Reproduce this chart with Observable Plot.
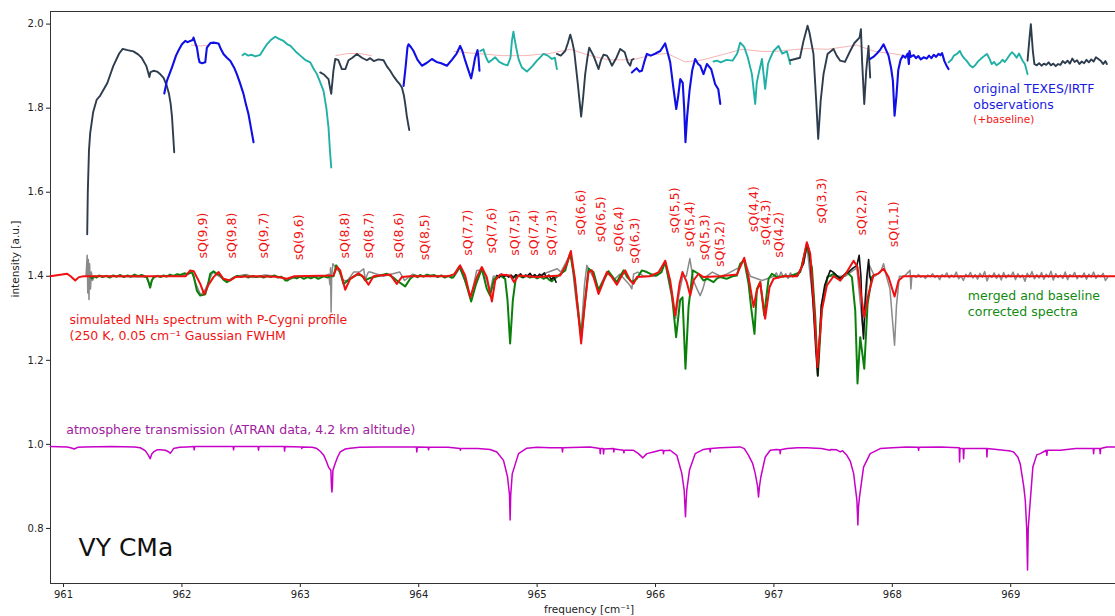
<!DOCTYPE html>
<html><head><meta charset="utf-8">
<script src="https://cdn.jsdelivr.net/npm/d3@7"></script>
<script src="https://cdn.jsdelivr.net/npm/@observablehq/plot@0.6"></script>
<style>
html,body{margin:0;padding:0;background:#fff;overflow:hidden}
svg{display:block}
</style>
</head><body><div id="chart"></div>
<script>
// ---------- axes ----------
const xDomain = [960.89, 969.885];
const yDomain = [0.669, 2.030];
const xTicks = [961, 962, 963, 964, 965, 966, 967, 968, 969];
const yTicks = [0.8, 1.0, 1.2, 1.4, 1.6, 1.8, 2.0];

// ---------- original TEXES/IRTF observations (+baseline), [frequency, intensity] ----------
const obsDark1 = [[961.20,1.50],[961.205,1.60],[961.215,1.70],[961.225,1.74],[961.25,1.79],[961.28,1.82],[961.31,1.83],[961.37,1.86],[961.42,1.90],[961.47,1.93],[961.50,1.941],[961.54,1.938],[961.59,1.935],[961.63,1.928],[961.66,1.92],[961.70,1.90],[961.715,1.885],[961.725,1.874],[961.735,1.886],[961.76,1.889],[961.79,1.887],[961.82,1.88],[961.845,1.872],[961.87,1.855],[961.89,1.835],[961.905,1.81],[961.916,1.78],[961.925,1.74],[961.935,1.695]];
const obsBlue1 = [[961.851,1.835],[961.873,1.865],[961.916,1.897],[961.95,1.925],[961.971,1.937],[962.0,1.952],[962.028,1.96],[962.05,1.957],[962.07,1.96],[962.09,1.962],[962.098,1.968],[962.113,1.955],[962.127,1.944],[962.14,1.92],[962.149,1.909],[962.17,1.907],[962.197,1.909],[962.205,1.93],[962.211,1.944],[962.24,1.955],[962.267,1.956],[962.309,1.954],[962.33,1.94],[962.351,1.929],[962.38,1.92],[962.408,1.913],[962.44,1.897],[962.464,1.881],[962.49,1.86],[962.52,1.834],[962.54,1.81],[962.562,1.786],[962.585,1.75],[962.605,1.719]];
const obsTeal1 = [[962.512,1.926],[962.53,1.93],[962.56,1.925],[962.59,1.927],[962.62,1.923],[962.661,1.927],[962.69,1.94],[962.718,1.952],[962.75,1.962],[962.788,1.97],[962.82,1.965],[962.858,1.96],[962.89,1.952],[962.915,1.949],[962.96,1.935],[963.0,1.925],[963.04,1.915],[963.084,1.909],[963.11,1.895],[963.14,1.881],[963.17,1.86],[963.196,1.841],[963.22,1.80],[963.238,1.754],[963.25,1.70],[963.261,1.659]];
const obsDark2 = [[963.168,1.885],[963.2,1.88],[963.238,1.869],[963.25,1.85],[963.261,1.834],[963.28,1.89],[963.295,1.917],[963.32,1.915],[963.351,1.893],[963.38,1.893],[963.407,1.914],[963.44,1.92],[963.478,1.929],[963.52,1.92],[963.562,1.914],[963.59,1.919],[963.62,1.912],[963.66,1.916],[963.703,1.914],[963.73,1.90],[963.759,1.889],[963.79,1.875],[963.816,1.865],[963.84,1.857],[963.858,1.849],[963.875,1.83],[963.886,1.81],[963.90,1.78],[963.92,1.748]];
const obsBlue2 = [[963.872,1.853],[963.89,1.90],[963.905,1.945],[963.914,1.952],[963.935,1.945],[963.956,1.936],[963.99,1.915],[964.027,1.901],[964.07,1.908],[964.111,1.917],[964.15,1.91],[964.19,1.907],[964.238,1.901],[964.28,1.915],[964.32,1.93],[964.35,1.948],[964.37,1.935],[964.393,1.913],[964.42,1.89],[964.443,1.871],[964.46,1.895],[964.477,1.921],[964.497,1.938],[964.505,1.92],[964.513,1.889]];
const obsTeal2 = [[964.52,1.936],[964.546,1.94],[964.57,1.92],[964.59,1.909],[964.62,1.915],[964.646,1.921],[964.68,1.91],[964.716,1.905],[964.75,1.902],[964.775,1.92],[964.787,1.96],[964.80,1.982],[964.81,1.965],[964.823,1.944],[964.845,1.915],[964.871,1.897],[964.914,1.887],[964.96,1.90],[964.998,1.913],[965.03,1.922],[965.054,1.929],[965.09,1.925],[965.125,1.917],[965.15,1.92],[965.167,1.893]];
const obsDark3 = [[965.167,1.929],[965.2,1.925],[965.237,1.936],[965.26,1.955],[965.28,1.975],[965.295,1.96],[965.313,1.936],[965.341,1.865],[965.372,1.78],[965.39,1.83],[965.406,1.881],[965.425,1.92],[965.44,1.944],[965.476,1.925],[965.519,1.893],[965.54,1.915],[965.561,1.927],[965.59,1.925],[965.61,1.915],[965.632,1.901],[965.67,1.92],[965.702,1.941],[965.74,1.933],[965.765,1.91],[965.786,1.901],[965.80,1.915],[965.814,1.917]];
const obsBlue3 = [[965.80,1.885],[965.84,1.895],[965.865,1.887],[965.885,1.889],[965.905,1.91],[965.927,1.929],[965.96,1.925],[966.0,1.93],[966.04,1.936],[966.082,1.954],[966.10,1.935],[966.124,1.909],[966.15,1.85],[966.175,1.798],[966.192,1.83],[966.209,1.869],[966.23,1.86],[966.242,1.80],[966.253,1.719],[966.267,1.78],[966.287,1.841],[966.31,1.89],[966.335,1.917],[966.36,1.905],[966.378,1.901],[966.405,1.881],[966.434,1.905],[966.47,1.893],[966.504,1.857],[966.53,1.845],[966.547,1.81]];
const obsTeal3 = [[966.49,1.911],[966.52,1.913],[966.55,1.909],[966.60,1.915],[966.65,1.913],[966.69,1.93],[966.715,1.956],[966.735,1.95],[966.75,1.945],[966.78,1.92],[966.814,1.881],[966.842,1.810],[966.855,1.86],[966.87,1.881],[966.899,1.917],[966.926,1.846],[966.95,1.905],[966.97,1.92],[966.997,1.936],[967.039,1.948],[967.07,1.93],[967.11,1.935],[967.138,1.905]];
const obsDark4 = [[967.138,1.914],[967.18,1.917],[967.22,1.92],[967.25,1.96],[967.284,1.996],[967.30,1.98],[967.334,1.929],[967.357,1.818],[967.374,1.727],[967.395,1.818],[967.419,1.881],[967.453,1.929],[967.503,1.941],[967.53,1.925],[967.56,1.913],[967.60,1.91],[967.644,1.936],[967.68,1.955],[967.723,1.968],[967.735,1.988],[967.745,1.91],[967.763,1.81],[967.78,1.89],[967.799,1.948],[967.813,1.873]];
const obsBlue4 = [[967.813,1.917],[967.84,1.922],[967.87,1.93],[967.90,1.94],[967.926,1.952],[967.945,1.94],[967.968,1.925],[967.99,1.895],[968.005,1.865],[968.019,1.782],[968.035,1.83],[968.05,1.89],[968.07,1.915],[968.09,1.925],[968.11,1.92],[968.13,1.93],[968.14,1.905],[968.145,1.936],[968.155,1.922],[968.18,1.926],[968.20,1.919],[968.22,1.924],[968.24,1.916],[968.264,1.921],[968.29,1.918],[968.31,1.925],[968.33,1.919],[968.35,1.927],[968.37,1.922],[968.39,1.929],[968.405,1.926],[968.42,1.931],[968.44,1.912],[968.46,1.90],[968.475,1.893]];
const obsTeal4 = [[968.475,1.909],[968.50,1.915],[968.52,1.925],[968.546,1.929],[968.57,1.936],[968.59,1.925],[968.61,1.918],[968.63,1.912],[968.658,1.901],[968.68,1.897],[968.70,1.902],[968.72,1.91],[968.75,1.918],[968.78,1.925],[968.80,1.929],[968.82,1.918],[968.84,1.905],[968.86,1.910],[968.88,1.902],[968.91,1.908],[968.93,1.915],[968.95,1.910],[968.968,1.917],[968.99,1.926],[969.01,1.933],[969.03,1.928],[969.05,1.92],[969.07,1.93],[969.10,1.913],[969.12,1.905],[969.142,1.881]];
const obsDark5 = [[969.142,1.913],[969.159,1.968],[969.17,2.0],[969.187,1.936],[969.20,1.905],[969.22,1.902],[969.24,1.907],[969.26,1.901],[969.28,1.906],[969.30,1.903],[969.32,1.909],[969.34,1.902],[969.36,1.906],[969.38,1.900],[969.40,1.905],[969.42,1.903],[969.44,1.912],[969.46,1.907],[969.48,1.913],[969.50,1.906],[969.52,1.918],[969.54,1.910],[969.56,1.914],[969.58,1.905],[969.60,1.911],[969.62,1.907],[969.64,1.915],[969.66,1.909],[969.68,1.916],[969.70,1.911],[969.72,1.921],[969.74,1.917],[969.76,1.913],[969.78,1.905],[969.80,1.912],[969.812,1.905]];
const obsBaseline = [[962.08,1.95],[962.15,1.948],[962.22,1.95],[NaN,NaN],[963.30,1.925],[963.40,1.93],[963.50,1.93],[963.6,1.925],[NaN,NaN],[964.30,1.935],[964.40,1.932],[964.50,1.93],[964.7,1.925],[964.9,1.925],[965.1,1.93],[965.28,1.94],[965.45,1.925],[965.6,1.915],[965.8,1.915],[966.0,1.928],[966.1,1.93],[966.25,1.91],[966.4,1.915],[966.6,1.93],[966.73,1.94],[966.9,1.935],[967.0,1.935],[967.28,1.942],[967.45,1.94],[967.7,1.95],[967.85,1.935],[968.0,1.93],[968.1,1.925]];

// ---------- merged spectra ----------
const mergedGray = [[961.19,1.40],[961.20,1.45],[961.205,1.36],[961.21,1.44],[961.215,1.345],[961.22,1.43],[961.228,1.37],[961.235,1.41],[961.245,1.39],[961.26,1.40],[961.4,1.40],[961.7,1.398],[961.73,1.375],[961.76,1.40],[962.0,1.40],[962.08,1.412],[962.12,1.38],[962.16,1.355],[962.2,1.37],[962.26,1.41],[962.38,1.388],[962.45,1.40],[962.55,1.404],[962.6,1.397],[962.7,1.403],[962.8,1.40],[962.9,1.392],[963.0,1.40],[963.1,1.398],[963.2,1.40],[963.24,1.405],[963.25,1.38],[963.255,1.42],[963.26,1.315],[963.265,1.40],[963.275,1.43],[963.285,1.426],[963.30,1.42],[963.33,1.41],[963.365,1.39],[963.40,1.39],[963.45,1.41],[963.50,1.41],[963.535,1.418],[963.55,1.39],[963.56,1.40],[963.575,1.41],[963.59,1.41],[963.7,1.40],[963.84,1.41],[963.88,1.39],[963.95,1.405],[964.0,1.40],[964.1,1.403],[964.2,1.40],[964.3,1.40],[964.35,1.42],[964.44,1.35],[964.49,1.414],[964.53,1.415],[964.575,1.39],[964.60,1.36],[964.63,1.40],[964.8,1.40],[965.0,1.40],[965.17,1.418],[965.2,1.41],[965.285,1.455],[965.33,1.34],[965.37,1.26],[965.40,1.38],[965.42,1.426],[965.47,1.40],[965.52,1.37],[965.57,1.40],[965.60,1.412],[965.65,1.392],[965.70,1.405],[965.78,1.38],[965.80,1.37],[965.815,1.405],[965.85,1.41],[965.9,1.40],[966.0,1.40],[966.08,1.435],[966.13,1.36],[966.17,1.30],[966.2,1.36],[966.23,1.40],[966.26,1.40],[966.29,1.442],[966.32,1.39],[966.35,1.37],[966.377,1.354],[966.40,1.37],[966.43,1.40],[966.48,1.41],[966.55,1.40],[966.6,1.405],[966.7,1.42],[966.75,1.44],[966.8,1.40],[966.9,1.39],[967.0,1.40],[967.02,1.408],[967.04,1.396],[967.06,1.41],[967.08,1.398],[967.10,1.406],[967.12,1.395],[967.14,1.408],[967.16,1.398],[967.18,1.404],[967.2,1.40],[967.25,1.43],[967.28,1.47],[967.33,1.34],[967.37,1.18],[967.40,1.33],[967.45,1.40],[967.6,1.40],[967.70,1.42],[967.757,1.26],[967.80,1.43],[967.85,1.40],[967.9,1.41],[967.926,1.43],[967.95,1.40],[967.98,1.37],[968.0,1.30],[968.019,1.236],[968.035,1.33],[968.06,1.40],[968.10,1.40],[968.15,1.414],[968.157,1.37],[968.165,1.40],
[968.18,1.402],[968.20,1.397],[968.22,1.404],[968.24,1.398],[968.26,1.401],[968.28,1.395],[968.30,1.403],[968.32,1.399],[968.34,1.406],[968.36,1.397],[968.38,1.402],[968.40,1.392],[968.42,1.404],[968.44,1.399],[968.46,1.408],[968.48,1.396],[968.50,1.403],[968.52,1.398],[968.54,1.410],[968.56,1.394],[968.58,1.401],[968.60,1.390],[968.62,1.405],[968.64,1.399],[968.66,1.409],[968.68,1.396],[968.70,1.404],[968.72,1.393],[968.74,1.407],[968.76,1.398],[968.78,1.411],[968.80,1.389],[968.82,1.403],[968.84,1.397],[968.86,1.408],[968.88,1.395],[968.90,1.405],[968.92,1.391],[968.94,1.409],[968.96,1.396],[968.98,1.404],[969.00,1.399],[969.02,1.410],[969.04,1.392],[969.06,1.406],[969.08,1.397],[969.10,1.403],[969.12,1.388],[969.14,1.407],[969.16,1.398],[969.18,1.411],[969.20,1.394],[969.22,1.404],[969.24,1.396],[969.26,1.409],[969.28,1.393],[969.30,1.405],[969.32,1.398],[969.34,1.412],[969.36,1.391],[969.38,1.406],[969.40,1.397],[969.42,1.403],[969.44,1.395],[969.46,1.410],[969.48,1.392],[969.50,1.404],[969.52,1.399],[969.54,1.409],[969.56,1.394],[969.58,1.402],[969.60,1.397],[969.62,1.408],[969.64,1.393],[969.66,1.405],[969.68,1.398],[969.70,1.410],[969.72,1.395],[969.74,1.403],[969.76,1.399],[969.78,1.407],[969.80,1.390],[969.82,1.398]];
const mergedBlack = [[964.66,1.402],[964.68,1.397],[964.70,1.405],[964.72,1.399],[964.74,1.404],[964.76,1.398],[964.78,1.403],[964.80,1.396],[964.82,1.404],[964.84,1.400],[964.86,1.406],[964.88,1.398],[964.90,1.403],[964.92,1.401],[964.94,1.407],[964.96,1.399],[964.98,1.404],[965.00,1.398],[965.02,1.405],[965.04,1.401],[965.06,1.408],[965.08,1.397],[965.10,1.403],[965.12,1.392],[965.14,1.399],[965.16,1.386],[NaN,NaN],
[967.15,1.40],[967.2,1.402],[967.25,1.43],[967.28,1.478],[967.30,1.46],[967.33,1.34],[967.355,1.22],[967.37,1.163],[967.385,1.25],[967.40,1.33],[967.43,1.38],[967.476,1.414],[967.5,1.41],[967.53,1.402],[967.56,1.395],[967.6,1.405],[967.63,1.41],[967.67,1.42],[967.70,1.425],[967.72,1.45],[967.735,1.40],[967.745,1.30],[967.757,1.251],[967.77,1.34],[967.785,1.40],[967.80,1.44],[967.81,1.40],[967.82,1.39]];
const correctedGreen = [[961.225,1.40],[961.24,1.395],[961.26,1.40],[961.28,1.397],[961.30,1.402],[961.33,1.398],[961.36,1.401],[961.39,1.397],[961.42,1.402],[961.45,1.399],[961.48,1.403],[961.51,1.398],[961.54,1.402],[961.57,1.399],[961.60,1.404],[961.63,1.400],[961.66,1.403],[961.69,1.399],[961.704,1.398],[961.72,1.385],[961.732,1.373],[961.745,1.39],[961.761,1.397],[961.79,1.401],[961.82,1.398],[961.845,1.402],[961.87,1.399],[961.90,1.404],[961.93,1.401],[961.96,1.405],[961.986,1.403],[962.02,1.407],[962.05,1.405],[962.084,1.41],[962.10,1.40],[962.126,1.366],[962.155,1.354],[962.197,1.357],[962.22,1.38],[962.239,1.406],[962.267,1.412],[962.3,1.405],[962.324,1.402],[962.35,1.392],[962.38,1.386],[962.436,1.396],[962.47,1.401],[962.50,1.398],[962.53,1.402],[962.56,1.397],[962.60,1.401],[962.63,1.398],[962.661,1.40],[962.69,1.397],[962.72,1.401],[962.75,1.398],[962.78,1.402],[962.81,1.397],[962.84,1.399],[962.858,1.395],[962.875,1.39],[962.892,1.39],[962.92,1.396],[962.943,1.398],[962.97,1.395],[963.0,1.399],[963.03,1.394],[963.06,1.398],[963.09,1.395],[963.12,1.399],[963.15,1.394],[963.168,1.396],[963.2,1.40],[963.23,1.397],[963.25,1.40],[963.281,1.40],[963.303,1.426],[963.331,1.414],[963.365,1.382],[963.421,1.394],[963.478,1.404],[963.52,1.402],[963.548,1.39],[963.59,1.396],[963.65,1.40],[963.731,1.406],[963.78,1.398],[963.815,1.39],[963.886,1.376],[963.928,1.394],[963.96,1.402],[963.99,1.398],[964.012,1.403],[964.04,1.399],[964.07,1.404],[964.10,1.40],[964.13,1.403],[964.16,1.398],[964.19,1.402],[964.22,1.397],[964.25,1.401],[964.28,1.396],[964.294,1.398],[964.344,1.423],[964.392,1.39],[964.443,1.34],[964.485,1.382],[964.533,1.418],[964.575,1.37],[964.603,1.354],[964.637,1.394],[964.688,1.402],[964.730,1.394],[964.750,1.343],[964.772,1.24],[964.795,1.343],[964.823,1.402],[964.857,1.40],[964.88,1.397],[964.91,1.401],[964.94,1.397],[964.97,1.40],[965.00,1.395],[965.03,1.399],[965.054,1.394],[965.08,1.398],[965.10,1.392],[965.124,1.388],[965.15,1.395],[965.181,1.402],[965.237,1.414],[965.279,1.455],[965.313,1.40],[965.35,1.311],[965.372,1.255],[965.40,1.327],[965.434,1.418],[965.476,1.41],[965.519,1.366],[965.561,1.39],[965.603,1.412],[965.64,1.398],[965.673,1.386],[965.70,1.40],[965.73,1.414],[965.76,1.398],[965.8,1.386],[965.842,1.394],[965.884,1.414],[965.927,1.41],[965.97,1.404],[966.011,1.402],[966.05,1.41],[966.082,1.434],[966.138,1.358],[966.174,1.255],[966.208,1.343],[966.228,1.35],[966.253,1.18],[966.279,1.327],[966.315,1.414],[966.363,1.406],[966.405,1.39],[966.44,1.394],[966.49,1.386],[966.52,1.395],[966.546,1.398],[966.60,1.394],[966.65,1.40],[966.687,1.402],[966.715,1.43],[966.749,1.438],[966.786,1.382],[966.81,1.32],[966.836,1.263],[966.856,1.37],[966.884,1.386],[966.90,1.35],[966.918,1.307],[966.94,1.36],[966.955,1.394],[966.983,1.406],[967.025,1.398],[967.081,1.40],[967.138,1.40],[967.222,1.41],[967.278,1.477],[967.321,1.42],[967.349,1.303],[967.371,1.164],[967.405,1.327],[967.453,1.398],[967.504,1.406],[967.56,1.39],[967.616,1.41],[967.659,1.398],[967.687,1.318],[967.706,1.145],[967.729,1.255],[967.763,1.18],[967.791,1.334],[967.827,1.398],[967.841,1.402]];

// ---------- simulated NH3 spectrum (P-Cygni) ----------
const simulatedRed = [[960.888,1.40],[961.03,1.406],[961.06,1.40],[961.099,1.39],[961.13,1.398],[961.17,1.40],[962.03,1.40],[962.07,1.414],[962.10,1.412],[962.155,1.382],[962.188,1.357],[962.225,1.38],[962.267,1.398],[962.31,1.41],[962.35,1.394],[962.408,1.39],[962.45,1.398],[962.6,1.40],[962.8,1.399],[962.887,1.394],[962.95,1.40],[963.28,1.402],[963.309,1.422],[963.337,1.414],[963.379,1.368],[963.421,1.394],[963.492,1.407],[963.534,1.398],[963.576,1.38],[963.618,1.40],[963.674,1.402],[963.759,1.404],[963.815,1.382],[963.857,1.398],[963.928,1.40],[964.25,1.40],[964.30,1.405],[964.35,1.426],[964.392,1.402],[964.435,1.35],[964.491,1.398],[964.533,1.422],[964.575,1.398],[964.618,1.34],[964.646,1.39],[964.688,1.404],[964.772,1.402],[964.806,1.386],[964.843,1.402],[965.0,1.398],[965.195,1.402],[965.251,1.43],[965.285,1.46],[965.321,1.39],[965.35,1.303],[965.372,1.24],[965.40,1.327],[965.434,1.41],[965.462,1.414],[965.49,1.386],[965.519,1.358],[965.547,1.378],[965.589,1.41],[965.631,1.398],[965.673,1.38],[965.716,1.402],[965.744,1.414],[965.786,1.39],[965.814,1.382],[965.842,1.398],[965.95,1.40],[966.03,1.41],[966.082,1.437],[966.124,1.39],[966.166,1.307],[966.203,1.382],[966.228,1.41],[966.264,1.386],[966.293,1.354],[966.321,1.39],[966.363,1.406],[966.405,1.398],[966.55,1.40],[966.687,1.404],[966.715,1.422],[966.749,1.444],[966.786,1.398],[966.828,1.327],[966.856,1.366],[966.884,1.386],[966.926,1.299],[966.963,1.374],[966.997,1.394],[967.081,1.40],[967.194,1.40],[967.236,1.422],[967.278,1.481],[967.307,1.453],[967.335,1.342],[967.368,1.184],[967.405,1.319],[967.447,1.378],[967.504,1.40],[967.56,1.39],[967.616,1.41],[967.673,1.437],[967.706,1.422],[967.735,1.358],[967.763,1.303],[967.799,1.358],[967.841,1.402],[967.884,1.407],[967.926,1.418],[967.968,1.398],[968.019,1.352],[968.053,1.39],[968.095,1.40],[969.885,1.40]];

// ---------- atmospheric transmission (ATRAN) ----------
const atranMagenta = [[960.888,0.995],[961.03,0.994],[961.06,0.992],[961.09,0.989],[961.12,0.993],[961.17,0.994],[961.4,0.995],[961.6,0.994],[961.648,0.992],[961.69,0.985],[961.715,0.975],[961.732,0.966],[961.745,0.977],[961.761,0.982],[961.79,0.987],[961.817,0.987],[961.86,0.986],[961.89,0.982],[961.901,0.979],[961.915,0.984],[961.929,0.990],[961.98,0.993],[962.042,0.994],[962.1,0.995],[962.104,0.987],[962.108,0.995],[962.3,0.995],[962.433,0.995],[962.436,0.987],[962.44,0.995],[962.644,0.995],[962.647,0.986],[962.651,0.995],[962.864,0.995],[962.867,0.984],[962.871,0.995],[963.01,0.994],[963.013,0.99],[963.017,0.994],[963.10,0.993],[963.14,0.99],[963.17,0.983],[963.196,0.975],[963.22,0.96],[963.238,0.946],[963.258,0.938],[963.263,0.90],[963.267,0.887],[963.271,0.90],[963.275,0.938],[963.295,0.955],[963.315,0.97],[963.337,0.982],[963.38,0.989],[963.422,0.991],[963.5,0.993],[963.675,0.994],[963.8,0.994],[963.98,0.994],[963.984,0.982],[963.988,0.994],[964.08,0.993],[964.083,0.987],[964.087,0.993],[964.25,0.993],[964.35,0.99],[964.352,0.986],[964.356,0.99],[964.5,0.99],[964.603,0.988],[964.66,0.982],[964.716,0.962],[964.75,0.923],[964.767,0.879],[964.772,0.82],[964.777,0.88],[964.79,0.93],[964.801,0.94],[964.843,0.978],[964.913,0.991],[965.0,0.993],[965.11,0.992],[965.21,0.992],[965.214,0.982],[965.218,0.992],[965.448,0.994],[965.53,0.99],[965.533,0.978],[965.537,0.99],[965.557,0.99],[965.561,0.977],[965.565,0.989],[965.645,0.99],[965.648,0.982],[965.652,0.989],[965.73,0.986],[965.733,0.980],[965.737,0.986],[965.814,0.986],[965.856,0.978],[965.893,0.968],[965.927,0.978],[965.983,0.982],[966.039,0.986],[966.064,0.986],[966.067,0.978],[966.07,0.985],[966.124,0.986],[966.18,0.974],[966.222,0.931],[966.242,0.891],[966.253,0.828],[966.258,0.86],[966.264,0.891],[966.287,0.939],[966.335,0.978],[966.405,0.988],[966.458,0.99],[966.462,0.982],[966.466,0.99],[966.546,0.992],[966.715,0.994],[966.75,0.99],[966.786,0.974],[966.82,0.955],[966.842,0.931],[966.862,0.90],[966.870,0.875],[966.878,0.90],[966.890,0.923],[966.927,0.970],[966.969,0.986],[967.02,0.988],[967.05,0.987],[967.053,0.978],[967.057,0.987],[967.11,0.99],[967.2,0.992],[967.278,0.992],[967.4,0.99],[967.475,0.986],[967.48,0.988],[967.53,0.987],[967.56,0.982],[967.58,0.985],[967.616,0.974],[967.645,0.96],[967.673,0.931],[967.701,0.867],[967.709,0.808],[967.714,0.85],[967.723,0.875],[967.757,0.946],[967.813,0.978],[967.898,0.99],[968.0,0.992],[968.123,0.994],[968.218,0.993],[968.222,0.986],[968.226,0.993],[968.405,0.994],[968.565,0.992],[968.568,0.958],[968.572,0.99],[968.598,0.99],[968.602,0.966],[968.606,0.99],[968.7,0.99],[968.796,0.99],[968.799,0.97],[968.803,0.99],[968.94,0.986],[969.0,0.984],[969.024,0.982],[969.06,0.97],[969.08,0.954],[969.11,0.90],[969.123,0.867],[969.135,0.80],[969.142,0.701],[969.148,0.80],[969.159,0.843],[969.187,0.946],[969.22,0.975],[969.249,0.978],[969.3,0.986],[969.305,0.974],[969.31,0.986],[969.418,0.986],[969.55,0.99],[969.697,0.99],[969.700,0.978],[969.704,0.99],[969.752,0.99],[969.756,0.978],[969.76,0.99],[969.812,0.994],[969.885,0.994]];

// ---------- line assignments ----------
const lineNames = ["sQ(9,9)","sQ(9,8)","sQ(9,7)","sQ(9,6)","sQ(8,8)","sQ(8,7)","sQ(8,6)","sQ(8,5)","sQ(7,7)","sQ(7,6)","sQ(7,5)","sQ(7,4)","sQ(7,3)","sQ(6,6)","sQ(6,5)","sQ(6,4)","sQ(6,3)","sQ(5,5)","sQ(5,4)","sQ(5,3)","sQ(5,2)","sQ(4,4)","sQ(4,3)","sQ(4,2)","sQ(3,3)","sQ(2,2)","sQ(1,1)"];
const lineFreqs = [962.18,962.422,962.689,962.985,963.379,963.576,963.83,964.055,964.416,964.618,964.815,964.97,965.125,965.372,965.541,965.688,965.823,966.166,966.293,966.42,966.541,966.828,966.935,967.039,967.405,967.743,968.016];
const lineLabelBase = [1.442,1.442,1.442,1.438,1.442,1.442,1.442,1.438,1.449,1.454,1.449,1.449,1.449,1.497,1.481,1.457,1.430,1.502,1.469,1.438,1.422,1.505,1.473,1.444,1.525,1.497,1.469];

// ---------- annotations (text, frequency, intensity) ----------
const notesBlue = [["original TEXES/IRTF", 968.684, 1.846], ["observations", 968.684, 1.808]];
const notesBaseline = [["(+baseline)", 968.684, 1.772]];
const notesRed = [["simulated NH\u2083 spectrum with P-Cygni profile", 961.051, 1.295], ["(250 K, 0.05 cm\u207B\u00B9 Gaussian FWHM", 961.051, 1.257]];
const notesGreen = [["merged and baseline", 968.638, 1.352], ["corrected spectra", 968.638, 1.316]];
const notesAtm = [["atmosphere transmission (ATRAN data, 4.2 km altitude)", 961.023, 1.035]];
const notesStar = [["VY CMa", 961.127, 0.753]];

const pts = a => a.map(([f, v]) => ({f, v}));
const FONT = "DejaVu Sans";
const seg = (a, color, w = 1.9) => Plot.line(pts(a), {x: "f", y: "v", stroke: color, strokeWidth: w, strokeLinejoin: "round"});
const note = (a, color, size) => Plot.text(a, {x: d => d[1], y: d => d[2], text: d => d[0], fill: color, fontSize: size, textAnchor: "start", fontFamily: FONT});

const DARK = "#2d3d4d", BLUE = "#0f0fe6", TEAL = "#20b0a6";

const chart = Plot.plot({
  width: 1115, height: 616,
  marginLeft: 50, marginRight: 0, marginTop: 11, marginBottom: 33,
  style: {fontFamily: FONT, fontSize: "10px", color: "#222", background: "#fff"},
  x: {domain: xDomain},
  y: {domain: yDomain},
  marks: [
    Plot.axisX({ticks: xTicks, tickSize: 4, tickPadding: 3, label: null, tickFormat: d3.format("d"), fontSize: 10}),
    Plot.axisY({ticks: yTicks, tickSize: 4, tickPadding: 3, label: null, tickFormat: d3.format(".1f"), fontSize: 10}),
    Plot.ruleX([xDomain[0]], {stroke: "#333", strokeWidth: 1}),
    Plot.ruleY([yDomain[0], yDomain[1]], {stroke: "#333", strokeWidth: 1}),
    // baseline
    Plot.line(pts(obsBaseline), {x: "f", y: "v", stroke: "#f08080", strokeOpacity: 0.6, strokeWidth: 1}),
    // observations
    seg(obsDark1, DARK), seg(obsBlue1, BLUE, 2.1), seg(obsTeal1, TEAL), seg(obsDark2, DARK),
    seg(obsBlue2, BLUE, 2.1), seg(obsTeal2, TEAL), seg(obsDark3, DARK), seg(obsBlue3, BLUE, 2.1),
    seg(obsTeal3, TEAL), seg(obsDark4, DARK), seg(obsBlue4, BLUE, 2.1), seg(obsTeal4, TEAL), seg(obsDark5, DARK),
    // merged
    seg(mergedGray, "#8a8a8a", 1.5),
    seg(correctedGreen, "#0a800a", 2),
    seg(mergedBlack, "#111", 1.6),
    seg(simulatedRed, "#f01010", 2),
    // atmosphere
    seg(atranMagenta, "#c800c8", 1.5),
    // line labels
    Plot.text(lineNames, {x: (d, i) => lineFreqs[i], y: (d, i) => lineLabelBase[i], text: d => d, rotate: -90, textAnchor: "start", fill: "#f01515", fontSize: 12.5, fontFamily: FONT}),
    // annotations
    note(notesBlue, "#1a1ae0", 12.5),
    note(notesBaseline, "#f01515", 10.5),
    note(notesRed, "#f01515", 12.5),
    note(notesGreen, "#128a12", 12.5),
    note(notesAtm, "#a020a0", 12.5),
    note(notesStar, "#111", 25),
    // axis titles
    Plot.text(["frequency [cm\u207B\u00B9]"], {frameAnchor: "bottom", dy: 29, dx: 6, fontSize: 10.5, fill: "#222", fontFamily: FONT}),
    Plot.text(["intensity [a.u.]"], {frameAnchor: "left", dx: -35, rotate: -90, fontSize: 10.5, fill: "#222", fontFamily: FONT})
  ]
});
document.getElementById("chart").appendChild(chart);
</script>
</body></html>
